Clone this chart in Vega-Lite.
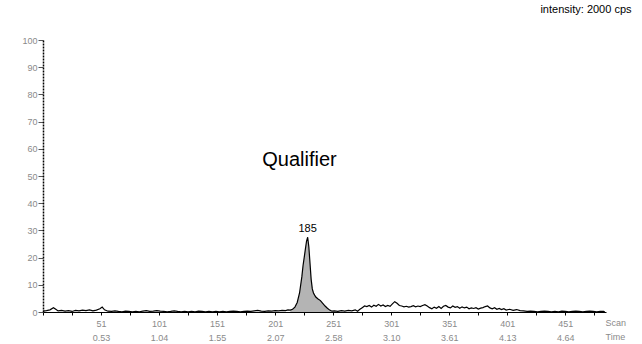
{
  "$schema": "https://vega.github.io/schema/vega-lite/v6.json",
  "width": 563,
  "height": 272,
  "autosize": {"type": "none"},
  "padding": {"left": 43, "top": 40, "right": 36, "bottom": 32},
  "background": "white",
  "config": {"view": {"stroke": null}, "font": "Liberation Sans"},
  "datasets": {
    "trace": [
      {"scan":1,"intensity":0.3},{"scan":4,"intensity":0.5},{"scan":7,"intensity":0.8},{"scan":10,"intensity":1.6},{"scan":12,"intensity":1.0},{"scan":14,"intensity":0.4},{"scan":17,"intensity":0.6},{"scan":20,"intensity":0.3},{"scan":23,"intensity":0.5},{"scan":26,"intensity":0.2},{"scan":29,"intensity":0.6},{"scan":32,"intensity":0.4},{"scan":35,"intensity":0.7},{"scan":38,"intensity":0.5},{"scan":41,"intensity":0.8},{"scan":44,"intensity":0.4},{"scan":47,"intensity":0.7},{"scan":50,"intensity":1.2},{"scan":52,"intensity":1.8},{"scan":54,"intensity":0.8},{"scan":57,"intensity":0.3},{"scan":60,"intensity":0.2},{"scan":63,"intensity":0.4},{"scan":66,"intensity":0.2},{"scan":69,"intensity":0.1},{"scan":72,"intensity":0.3},{"scan":75,"intensity":0.2},{"scan":78,"intensity":0.1},{"scan":81,"intensity":0.2},{"scan":84,"intensity":0.1},{"scan":87,"intensity":0.3},{"scan":90,"intensity":0.5},{"scan":93,"intensity":0.2},{"scan":96,"intensity":0.3},{"scan":99,"intensity":0.5},{"scan":102,"intensity":0.3},{"scan":105,"intensity":0.2},{"scan":108,"intensity":0.1},{"scan":111,"intensity":0.2},{"scan":114,"intensity":0.4},{"scan":117,"intensity":0.2},{"scan":120,"intensity":0.1},{"scan":123,"intensity":0.2},{"scan":126,"intensity":0.1},{"scan":129,"intensity":0.2},{"scan":132,"intensity":0.1},{"scan":135,"intensity":0.3},{"scan":138,"intensity":0.2},{"scan":141,"intensity":0.1},{"scan":144,"intensity":0.2},{"scan":147,"intensity":0.1},{"scan":150,"intensity":0.2},{"scan":153,"intensity":0.1},{"scan":156,"intensity":0.2},{"scan":159,"intensity":0.1},{"scan":162,"intensity":0.2},{"scan":165,"intensity":0.3},{"scan":168,"intensity":0.2},{"scan":171,"intensity":0.1},{"scan":174,"intensity":0.2},{"scan":177,"intensity":0.3},{"scan":180,"intensity":0.2},{"scan":183,"intensity":0.4},{"scan":186,"intensity":0.6},{"scan":189,"intensity":0.3},{"scan":192,"intensity":0.2},{"scan":195,"intensity":0.4},{"scan":198,"intensity":0.3},{"scan":201,"intensity":0.5},{"scan":204,"intensity":0.4},{"scan":207,"intensity":0.6},{"scan":210,"intensity":0.5},{"scan":212,"intensity":0.8},{"scan":214,"intensity":0.7},{"scan":216,"intensity":1.0},{"scan":218,"intensity":1.8},{"scan":220,"intensity":3.5},{"scan":222,"intensity":7},{"scan":224,"intensity":13},{"scan":225,"intensity":17},{"scan":226,"intensity":20},{"scan":227,"intensity":23},{"scan":228,"intensity":26},{"scan":229,"intensity":27.5},{"scan":230,"intensity":24},{"scan":231,"intensity":18},{"scan":232,"intensity":12},{"scan":233,"intensity":8.5},{"scan":234,"intensity":7},{"scan":235,"intensity":6.2},{"scan":236,"intensity":5.5},{"scan":238,"intensity":4.8},{"scan":240,"intensity":4.2},{"scan":242,"intensity":3.2},{"scan":244,"intensity":2.2},{"scan":246,"intensity":1.4},{"scan":248,"intensity":0.7},{"scan":250,"intensity":0.3},{"scan":252,"intensity":0.4},{"scan":255,"intensity":0.2},{"scan":258,"intensity":0.5},{"scan":261,"intensity":0.3},{"scan":264,"intensity":0.6},{"scan":267,"intensity":0.4},{"scan":270,"intensity":0.8},{"scan":272,"intensity":0.3},{"scan":274,"intensity":1.0},{"scan":276,"intensity":1.6},{"scan":278,"intensity":2.2},{"scan":280,"intensity":2.0},{"scan":282,"intensity":2.4},{"scan":284,"intensity":1.8},{"scan":286,"intensity":2.5},{"scan":288,"intensity":2.1},{"scan":290,"intensity":2.8},{"scan":292,"intensity":2.2},{"scan":294,"intensity":2.6},{"scan":296,"intensity":2.0},{"scan":298,"intensity":2.4},{"scan":300,"intensity":2.1},{"scan":302,"intensity":3.0},{"scan":304,"intensity":3.8},{"scan":306,"intensity":3.2},{"scan":308,"intensity":2.4},{"scan":310,"intensity":2.2},{"scan":312,"intensity":1.9},{"scan":314,"intensity":2.1},{"scan":316,"intensity":1.8},{"scan":318,"intensity":2.0},{"scan":320,"intensity":2.3},{"scan":322,"intensity":1.9},{"scan":324,"intensity":2.2},{"scan":326,"intensity":2.0},{"scan":328,"intensity":2.4},{"scan":330,"intensity":2.7},{"scan":332,"intensity":2.2},{"scan":334,"intensity":1.6},{"scan":336,"intensity":1.2},{"scan":338,"intensity":1.8},{"scan":340,"intensity":1.4},{"scan":342,"intensity":2.0},{"scan":344,"intensity":1.3},{"scan":346,"intensity":2.1},{"scan":348,"intensity":2.4},{"scan":350,"intensity":1.8},{"scan":352,"intensity":1.5},{"scan":354,"intensity":2.2},{"scan":356,"intensity":1.7},{"scan":358,"intensity":2.0},{"scan":360,"intensity":1.4},{"scan":362,"intensity":1.9},{"scan":364,"intensity":1.5},{"scan":366,"intensity":1.8},{"scan":368,"intensity":1.2},{"scan":370,"intensity":1.5},{"scan":372,"intensity":1.3},{"scan":374,"intensity":1.6},{"scan":376,"intensity":1.1},{"scan":378,"intensity":1.4},{"scan":380,"intensity":1.6},{"scan":382,"intensity":2.0},{"scan":384,"intensity":2.2},{"scan":386,"intensity":1.5},{"scan":388,"intensity":1.2},{"scan":390,"intensity":1.6},{"scan":392,"intensity":1.0},{"scan":394,"intensity":1.3},{"scan":396,"intensity":0.9},{"scan":398,"intensity":1.2},{"scan":400,"intensity":0.7},{"scan":403,"intensity":1.0},{"scan":406,"intensity":0.6},{"scan":409,"intensity":0.9},{"scan":412,"intensity":0.5},{"scan":415,"intensity":0.4},{"scan":418,"intensity":0.2},{"scan":421,"intensity":0.3},{"scan":424,"intensity":0.2},{"scan":427,"intensity":0.1},{"scan":430,"intensity":0.2},{"scan":433,"intensity":0.3},{"scan":436,"intensity":0.2},{"scan":439,"intensity":0.1},{"scan":442,"intensity":0.2},{"scan":445,"intensity":0.1},{"scan":448,"intensity":0.3},{"scan":451,"intensity":0.2},{"scan":454,"intensity":0.1},{"scan":457,"intensity":0.2},{"scan":460,"intensity":0.3},{"scan":463,"intensity":0.2},{"scan":466,"intensity":0.1},{"scan":469,"intensity":0.2},{"scan":472,"intensity":0.3},{"scan":475,"intensity":0.2},{"scan":478,"intensity":0.1},{"scan":481,"intensity":0.2},{"scan":484,"intensity":0.2},{"scan":485,"intensity":0.1}
    ],
    "notes": [
      {"scan": 229, "intensity": 27.5, "label": "185", "kind": "peak"},
      {"scan": 222, "intensity": 56, "label": "Qualifier", "kind": "title"},
      {"scan": 508, "intensity": 111, "label": "intensity: 2000 cps", "kind": "corner"}
    ]
  },
  "encoding": {
    "x": {
      "field": "scan",
      "type": "quantitative",
      "scale": {"domain": [1, 486], "nice": false, "zero": false},
      "axis": {
        "values": [1,26,51,76,101,126,151,176,201,226,251,276,301,326,351,376,401,426,451,476],
        "labelExpr": "datum.value == 51 ? ['51','0.53'] : datum.value == 101 ? ['101','1.04'] : datum.value == 151 ? ['151','1.55'] : datum.value == 201 ? ['201','2.07'] : datum.value == 251 ? ['251','2.58'] : datum.value == 301 ? ['301','3.10'] : datum.value == 351 ? ['351','3.61'] : datum.value == 401 ? ['401','4.13'] : datum.value == 451 ? ['451','4.64'] : ''",
        "grid": false,
        "domainColor": "#000000",
        "domainWidth": 1.2,
        "tickColor": "#000000",
        "tickSize": 3,
        "labelFontSize": 9,
        "labelColor": "#8a8a8a",
        "labelLineHeight": 14,
        "labelPadding": 4,
        "labelFlush": false,
        "labelOverlap": false,
        "title": ["Scan", "Time"],
        "titleFontSize": 9,
        "titleFontWeight": "normal",
        "titleColor": "#8a8a8a",
        "titleLineHeight": 14,
        "titleAlign": "left",
        "titleAnchor": "start",
        "titleBaseline": "top",
        "titleX": 562,
        "titleY": 6
      }
    },
    "y": {
      "field": "intensity",
      "type": "quantitative",
      "scale": {"domain": [0, 100], "nice": false},
      "axis": {
        "values": [0,10,20,30,40,50,60,70,80,90,100],
        "grid": false,
        "domainColor": "#000000",
        "domainWidth": 1.5,
        "domainDash": [2, 1],
        "tickColor": "#555555",
        "tickSize": 5,
        "labelFontSize": 9,
        "labelColor": "#8a8a8a",
        "labelPadding": 1,
        "labelOverlap": false,
        "labelFlush": false,
        "title": null
      }
    }
  },
  "layer": [
    {
      "data": {"name": "trace"},
      "transform": [{"filter": "datum.scan >= 214 && datum.scan <= 250"}],
      "mark": {"type": "area", "color": "#b4b4b4", "opacity": 1}
    },
    {
      "data": {"name": "trace"},
      "mark": {"type": "line", "color": "#000000", "strokeWidth": 1.2}
    },
    {
      "data": {"name": "notes"},
      "transform": [{"filter": "datum.kind == 'peak'"}],
      "mark": {"type": "text", "fontSize": 11, "dy": -3, "baseline": "bottom", "color": "#000000", "clip": false},
      "encoding": {"text": {"field": "label"}}
    },
    {
      "data": {"name": "notes"},
      "transform": [{"filter": "datum.kind == 'title'"}],
      "mark": {"type": "text", "fontSize": 20, "baseline": "middle", "align": "center", "color": "#000000"},
      "encoding": {"text": {"field": "label"}}
    },
    {
      "data": {"name": "notes"},
      "transform": [{"filter": "datum.kind == 'corner'"}],
      "mark": {"type": "text", "fontSize": 11, "baseline": "middle", "align": "right", "color": "#000000", "clip": false},
      "encoding": {"text": {"field": "label"}}
    }
  ]
}
